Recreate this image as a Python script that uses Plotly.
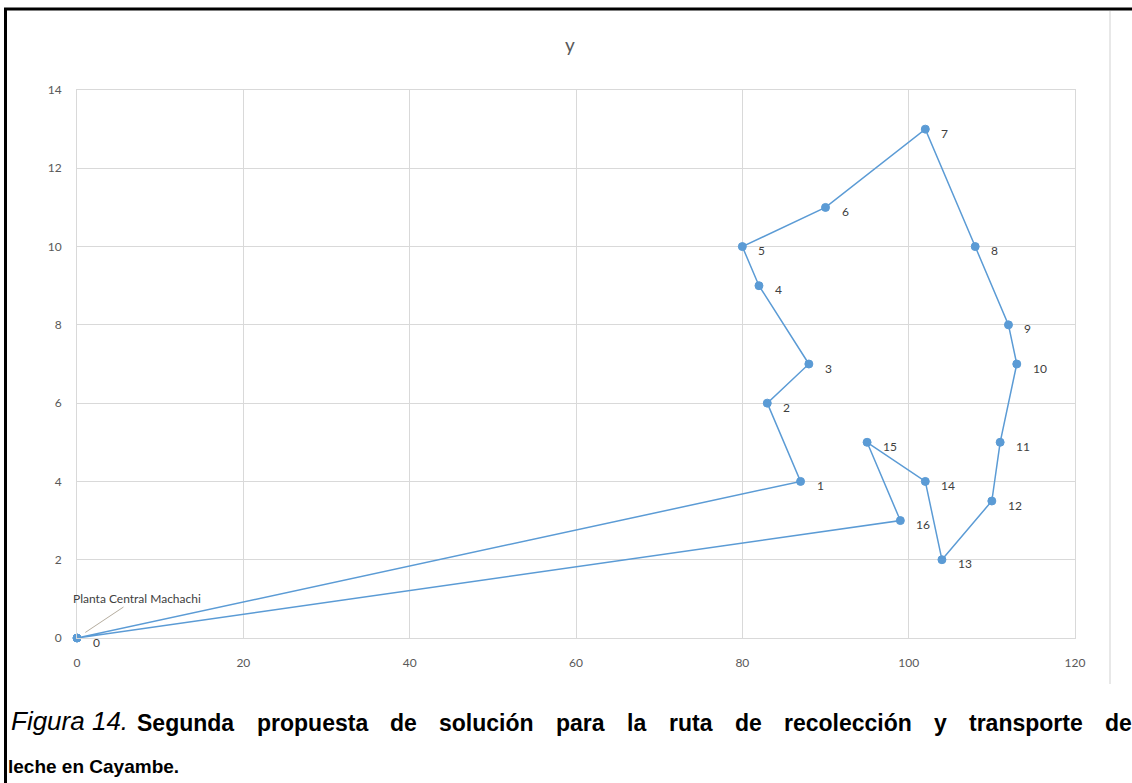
import plotly.graph_objects as go

# Route of the collection truck: stop coordinates in visiting order
stop_x = [0, 87, 83, 88, 82, 80, 90, 102, 108, 112, 113, 111, 110, 104, 102, 95, 99, 0]
stop_y = [0, 4, 6, 7, 9, 10, 11, 13, 10, 8, 7, 5, 3.5, 2, 4, 5, 3, 0]
stop_labels = ["0", "1", "2", "3", "4", "5", "6", "7", "8", "9", "10",
               "11", "12", "13", "14", "15", "16", "Planta Central Machachi"]

x_ticks = [0, 20, 40, 60, 80, 100, 120]
y_ticks = [0, 2, 4, 6, 8, 10, 12, 14]

chart_title = "y"
caption_prefix = "Figura 14."
caption_line1_words = ["Segunda", "propuesta", "de", "solución", "para", "la", "ruta",
                       "de", "recolección", "y", "transporte", "de"]
caption_line2 = "leche en Cayambe."

W, H = 1132, 783
L, R, T, B = 77, 57, 90, 145
PW, PH = W - L - R, H - T - B

BLUE = "#5B9BD5"
GRID = "#d9d9d9"
TICK = "#595959"
LABEL_FONT = "Lato, Open Sans, sans-serif"
CAPTION_FONT = "Liberation Sans, Arial, sans-serif"


def px(xp):
    return (xp - L) / PW


def py(yp):
    return (H - B - yp) / PH


fig = go.Figure()
fig.add_trace(go.Scatter(
    x=stop_x, y=stop_y, mode="lines+markers",
    line=dict(color=BLUE, width=1.5),
    marker=dict(color=BLUE, size=8, line=dict(color=BLUE, width=1)),
    cliponaxis=False, hoverinfo="x+y", showlegend=False,
))

annotations = []
# Point labels to the right of each stop
for xv, yv, lab in zip(stop_x[:-1], stop_y[:-1], stop_labels[:-1]):
    annotations.append(dict(
        x=xv, y=yv, xref="x", yref="y", text=lab, showarrow=False,
        xanchor="left", yanchor="middle", xshift=14, yshift=-4,
        font=dict(family=LABEL_FONT, size=12, color="#404040"),
    ))
# Depot label pulled away from the origin with a leader line
annotations.append(dict(
    x=stop_x[-1], y=stop_y[-1], xref="x", yref="y", text=stop_labels[-1],
    showarrow=True, arrowhead=0, arrowwidth=1, arrowcolor="#b5ad9f",
    ax=60, ay=-40, standoff=10,
    font=dict(family=LABEL_FONT, size=12, color="#404040"),
))

# Chart title
annotations.append(dict(
    x=px(570), y=py(45), xref="paper", yref="paper", text=chart_title,
    showarrow=False, xanchor="center", yanchor="middle",
    font=dict(family=LABEL_FONT, size=19, color=TICK),
))

# Figure caption below the chart (first line is justified across the page width)
annotations.append(dict(
    x=px(9), y=py(721), xref="paper", yref="paper", text=caption_prefix,
    showarrow=False, xanchor="left", yanchor="middle",
    font=dict(family=CAPTION_FONT, size=26, color="#000000", style="italic"),
))
word_starts = [135, 254.5, 388, 437, 554, 625, 667, 733, 782, 932, 967, 1103]
for word, x0 in zip(caption_line1_words, word_starts):
    annotations.append(dict(
        x=px(x0), y=py(723), xref="paper", yref="paper", text=word,
        showarrow=False, xanchor="left", yanchor="middle",
        font=dict(family=CAPTION_FONT, size=23, color="#000000", weight="bold"),
    ))
annotations.append(dict(
    x=px(6), y=py(766), xref="paper", yref="paper", text=caption_line2,
    showarrow=False, xanchor="left", yanchor="middle",
    font=dict(family=CAPTION_FONT, size=19, color="#000000", weight="bold"),
))

shapes = [
    # outer frame: black top and left edges
    dict(type="line", xref="paper", yref="paper", x0=px(4), x1=px(1140), y0=py(9), y1=py(9),
         line=dict(color="#000000", width=3)),
    dict(type="line", xref="paper", yref="paper", x0=px(5.5), x1=px(5.5), y0=py(8), y1=py(790),
         line=dict(color="#000000", width=3)),
    # right edge of the chart area
    dict(type="line", xref="paper", yref="paper", x0=px(1110), x1=px(1110), y0=py(11), y1=py(684),
         line=dict(color=GRID, width=1.2)),
]

fig.update_layout(
    width=W, height=H,
    margin=dict(l=L, r=R, t=T, b=B, pad=0),
    paper_bgcolor="white", plot_bgcolor="white",
    annotations=annotations, shapes=shapes,
    xaxis=dict(range=[0, 120], tickvals=x_ticks, showgrid=True, gridcolor=GRID, gridwidth=1,
               zeroline=False, showline=True, linecolor=GRID, mirror=True,
               ticks="", ticklabelstandoff=14,
               tickfont=dict(family=LABEL_FONT, size=12, color=TICK)),
    yaxis=dict(range=[0, 14], tickvals=y_ticks, showgrid=True, gridcolor=GRID, gridwidth=1,
               zeroline=False, showline=True, linecolor=GRID, mirror=True,
               ticks="", ticklabelstandoff=12,
               tickfont=dict(family=LABEL_FONT, size=12, color=TICK)),
)

fig.write_html("out.html")
